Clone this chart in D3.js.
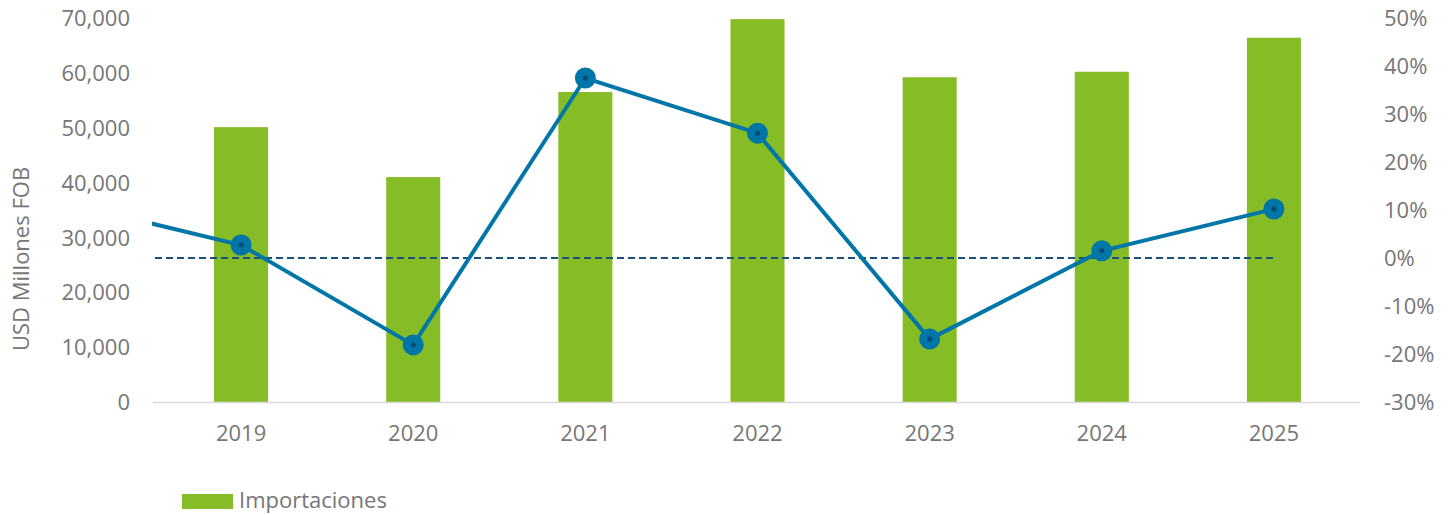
<!DOCTYPE html>
<html>
<head>
<meta charset="utf-8">
<script src="https://cdn.jsdelivr.net/npm/d3@7"></script>
<style>
  body { margin: 0; background: #fff; }
  text { font-family: "Open Sans", "Liberation Sans", sans-serif; }
</style>
</head>
<body>
<div id="chart"></div>
<script>
'use strict';

// years shown on the axis, plus the year before (only its line segment peeks in)
const years = ['2019', '2020', '2021', '2022', '2023', '2024', '2025'];
const prevYear = '2018';

// Importaciones, USD millones FOB
const imports = [50100, 41000, 56500, 69800, 59200, 60200, 66400];

// variación anual, %
const prevGrowth = 11.3;
const growth = [2.7, -18.1, 37.5, 26.0, -16.9, 1.5, 10.2];

const leftTicks = [0, 10000, 20000, 30000, 40000, 50000, 60000, 70000];
const rightTicks = [-30, -20, -10, 0, 10, 20, 30, 40, 50];

const width = 1452,
    height = 515;

const plot = { left: 155, right: 1360, top: 18, bottom: 402 };

const svg = d3.select('#chart').append('svg')
    .attr('width', width)
    .attr('height', height);

let x = d3.scaleBand()
    .domain(years)
    .range([plot.left, plot.right])
    .paddingInner(0.686)
    .paddingOuter(0.343);

let yLeft = d3.scaleLinear().domain([0, 70000]).range([plot.bottom, plot.top]);
let yRight = d3.scaleLinear().domain([-30, 50]).range([plot.bottom, plot.top]);

const step = x.step();
const cx = function(i) { return x(years[i]) + x.bandwidth() / 2; };

svg.append('defs').append('clipPath')
    .attr('id', 'plot-clip')
    .append('rect')
    .attr('x', plot.left - 3)
    .attr('y', 0)
    .attr('width', plot.right - plot.left + 6)
    .attr('height', height);

// left axis
let leftAxis = svg.append('g')
    .attr('transform', 'translate(' + (plot.left - 22) + ',0)')
    .call(d3.axisLeft(yLeft).tickValues(leftTicks).tickSize(0).tickFormat(d3.format(',')));
leftAxis.select('.domain').remove();
leftAxis.selectAll('text')
    .attr('font-size', 22)
    .attr('fill', '#767676')
    .attr('dy', '0.35em');

// right axis
let rightAxis = svg.append('g')
    .attr('transform', 'translate(' + (plot.right + 21) + ',0)')
    .call(d3.axisRight(yRight).tickValues(rightTicks).tickSize(0).tickFormat(function(d) { return d + '%'; }));
rightAxis.select('.domain').remove();
rightAxis.selectAll('text')
    .attr('font-size', 22)
    .attr('fill', '#767676')
    .attr('dy', '0.35em');

// y title
svg.append('text')
    .attr('transform', 'translate(29,259) rotate(-90)')
    .attr('text-anchor', 'middle')
    .attr('font-size', 22)
    .attr('fill', '#767676')
    .text('USD Millones FOB');

// bars
svg.append('g').selectAll('rect')
    .data(imports)
    .enter()
    .append('rect')
    .attr('x', function(d, i) { return x(years[i]); })
    .attr('y', function(d) { return yLeft(d); })
    .attr('width', x.bandwidth())
    .attr('height', function(d) { return yLeft(0) - yLeft(d); })
    .style('fill', '#86bc25');

// baseline
svg.append('line')
    .attr('x1', plot.left - 2)
    .attr('x2', plot.right)
    .attr('y1', yLeft(0) + 0.5)
    .attr('y2', yLeft(0) + 0.5)
    .style('stroke', '#d9d9d9')
    .style('stroke-width', 1.5);

// x labels
svg.append('g').selectAll('text')
    .data(years)
    .enter()
    .append('text')
    .attr('x', function(d, i) { return cx(i); })
    .attr('y', 441)
    .attr('text-anchor', 'middle')
    .attr('font-size', 22)
    .attr('fill', '#767676')
    .text(function(d) { return d; });

// 0% reference line
svg.append('line')
    .attr('x1', plot.left)
    .attr('x2', cx(years.length - 1))
    .attr('y1', yRight(0))
    .attr('y2', yRight(0))
    .style('stroke', '#1b4f7c')
    .style('stroke-width', 2)
    .style('stroke-dasharray', '7,4');

// growth line, starting from the previous year (clipped at the plot edge)
let linePoints = [{ x: cx(0) - step, v: prevGrowth }].concat(
    growth.map(function(v, i) { return { x: cx(i), v: v }; })
);

svg.append('path')
    .datum(linePoints)
    .attr('clip-path', 'url(#plot-clip)')
    .attr('d', d3.line()
        .x(function(d) { return d.x; })
        .y(function(d) { return yRight(d.v); }))
    .style('fill', 'none')
    .style('stroke', '#0076a8')
    .style('stroke-width', 4);

let markers = svg.append('g').selectAll('g')
    .data(growth)
    .enter()
    .append('g');

markers.append('circle')
    .attr('cx', function(d, i) { return cx(i); })
    .attr('cy', function(d) { return yRight(d); })
    .attr('r', 10.5)
    .style('fill', '#0076a8');

markers.append('circle')
    .attr('cx', function(d, i) { return cx(i); })
    .attr('cy', function(d) { return yRight(d); })
    .attr('r', 2.5)
    .style('fill', '#0b4a75');

// legend
svg.append('rect')
    .attr('x', 182)
    .attr('y', 494)
    .attr('width', 51)
    .attr('height', 15)
    .style('fill', '#86bc25');

svg.append('text')
    .attr('x', 239)
    .attr('y', 508)
    .attr('font-size', 22)
    .attr('fill', '#767676')
    .text('Importaciones');
</script>
</body>
</html>
